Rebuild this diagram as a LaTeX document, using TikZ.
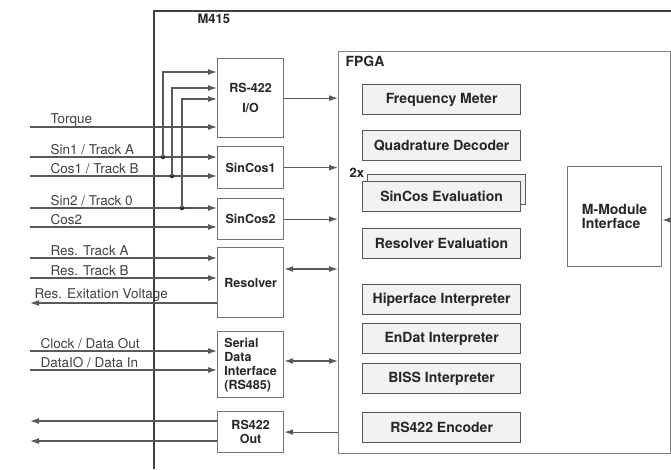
\documentclass[tikz,border=0pt]{standalone}
\usepackage{fontspec}
\setmainfont{TeX Gyre Heros}
\usetikzlibrary{arrows.meta}

\begin{document}
\begin{tikzpicture}
[x=1pt,y=-1pt,line width=1.2pt,%
  blk/.style={draw=black!55,fill=white,inner sep=0pt,anchor=north west,minimum width=66pt,font=\fontsize{12.5}{14}\selectfont\bfseries,text=black!85},%
  fblk/.style={draw=black!65,fill=black!5,inner sep=0pt,anchor=north west,minimum width=158pt,minimum height=30pt,font=\fontsize{14}{15}\selectfont\bfseries,text=black!85},%
  lbl/.style={anchor=base west,inner sep=0pt,font=\fontsize{13.5}{15}\selectfont,text=black!75},%
  sig/.style={draw=black!65,-{Latex[length=9pt,width=6pt]}},%
  bsig/.style={draw=black!65,{Latex[length=9pt,width=6pt]}-{Latex[length=9pt,width=6pt]}},%
  tap/.style={circle,fill=black!85,inner sep=0pt,minimum size=4.5pt}]
\useasboundingbox (0,0) rectangle (671,469);

% module frame
\draw[line width=1.6pt,black!75] (671,11) -- (154,11) -- (154,469);
\node[anchor=base west,inner sep=0pt,font=\fontsize{13}{14}\selectfont\bfseries,text=black!85] (m415) at (197,23) {M415};

% FPGA
\node[draw=black!50,inner sep=0pt,anchor=north west,minimum width=332pt,minimum height=402pt] (fpga) at (338,51) {};
\node[anchor=base west,inner sep=0pt,font=\fontsize{14}{15}\selectfont\bfseries,text=black!85] (fpgalbl) at (345,66) {FPGA};
\node[fblk] (fm) at (362,84) {Frequency Meter};
\node[fblk] (qd) at (362,130) {Quadrature Decoder};
\node[fblk] (sceback) at (367,174) {};
\node[fblk] (sce) at (362,181) {SinCos Evaluation};
\node[anchor=base west,inner sep=0pt,font=\fontsize{13}{14}\selectfont\bfseries,text=black!85] (twox) at (349,177) {2x};
\node[fblk] (rev) at (362,228) {Resolver Evaluation};
\node[fblk] (hip) at (362,284) {Hiperface Interpreter};
\node[fblk] (endat) at (362,323) {EnDat Interpreter};
\node[fblk] (biss) at (362,363) {BISS Interpreter};
\node[fblk] (enc) at (362,412) {RS422 Encoder};
\node[draw=black!55,inner sep=0pt,anchor=north west,minimum width=94pt,minimum height=100pt,align=left,font=\fontsize{14}{14}\selectfont\bfseries,text=black!85] (mmod) at (567,166) {M-Module\\Interface};

% interface blocks
\node[blk,minimum height=79pt,align=center] (rsio) at (217,58) {RS-422\\[6pt]I/O};
\node[blk,minimum height=42pt] (sc1) at (217,146) {SinCos1};
\node[blk,minimum height=41pt] (sc2) at (217,198) {SinCos2};
\node[blk,minimum height=70pt] (res) at (217,247) {Resolver};
\node[blk,minimum height=66pt,align=left] (sdi) at (217,331) {Serial\\Data\\Interface\\(RS485)};
\node[blk,minimum height=41pt,align=center] (rso) at (217,411) {RS422\\Out};

% inputs
\coordinate (torque) at (30,127);
\coordinate (sin1) at (30,157);
\coordinate (cos1) at (30,176);
\coordinate (sin2) at (30,208);
\coordinate (cos2) at (30,227);
\coordinate (resa) at (30,258);
\coordinate (resb) at (30,278);
\coordinate (resx) at (30,303);
\coordinate (clk) at (30,351);
\coordinate (dio) at (30,370);
\coordinate (outa) at (30,421);
\coordinate (outb) at (30,441);

\draw[sig] (torque) -- (torque -| rsio.west);
\draw[sig] (sin1) -- (sin1 -| sc1.west);
\draw[sig] (cos1) -- (cos1 -| sc1.west);
\draw[sig] (sin2) -- (sin2 -| sc2.west);
\draw[sig] (cos2) -- (cos2 -| sc2.west);
\draw[sig] (resa) -- (resa -| res.west);
\draw[sig] (resb) -- (resb -| res.west);
\draw[sig] (resx -| res.west) -- (resx);
\draw[sig] (clk) -- (clk -| sdi.west);
\draw[sig] (dio) -- (dio -| sdi.west);
\draw[sig] (outa -| rso.west) -- (outa);
\draw[sig] (outb -| rso.west) -- (outb);

\node[tap] (t1) at (163,157) {};
\node[tap] (t2) at (172,176) {};
\node[tap] (t3) at (182,208) {};
\draw[sig] (t1.center) |- (rsio.west |- 0,72);
\draw[sig] (t2.center) |- (rsio.west |- 0,88);
\draw[sig] (t3.center) |- (rsio.west |- 0,99);

\node[lbl] (ltorque) at (50,123) {Torque};
\node[lbl] (lsin1) at (50,154) {Sin1 / Track A};
\node[lbl] (lcos1) at (50,173) {Cos1 / Track B};
\node[lbl] (lsin2) at (50,205) {Sin2 / Track 0};
\node[lbl] (lcos2) at (50,224) {Cos2};
\node[lbl] (lresa) at (50,255) {Res. Track A};
\node[lbl] (lresb) at (50,275) {Res. Track B};
\node[lbl] (lresx) at (34,298) {Res. Exitation Voltage};
\node[lbl] (lclk) at (40,348) {Clock / Data Out};
\node[lbl] (ldio) at (40,367) {DataIO / Data In};

% to FPGA
\draw[sig] (rsio.east) -- (rsio.east -| fpga.west);
\draw[sig] (sc1.east) -- (sc1.east -| fpga.west);
\draw[sig] (sc2.east) -- (sc2.east -| fpga.west);
\draw[bsig] (res.east |- 0,269) -- (fpga.west |- 0,269);
\draw[bsig] (sdi.east |- 0,361) -- (fpga.west |- 0,361);
\draw[sig] (fpga.west |- rso.east) -- (rso.east);
\coordinate (mbus) at (671,220);
\draw[sig] (mbus) -- (mbus -| mmod.east);
\end{tikzpicture}
\end{document}
